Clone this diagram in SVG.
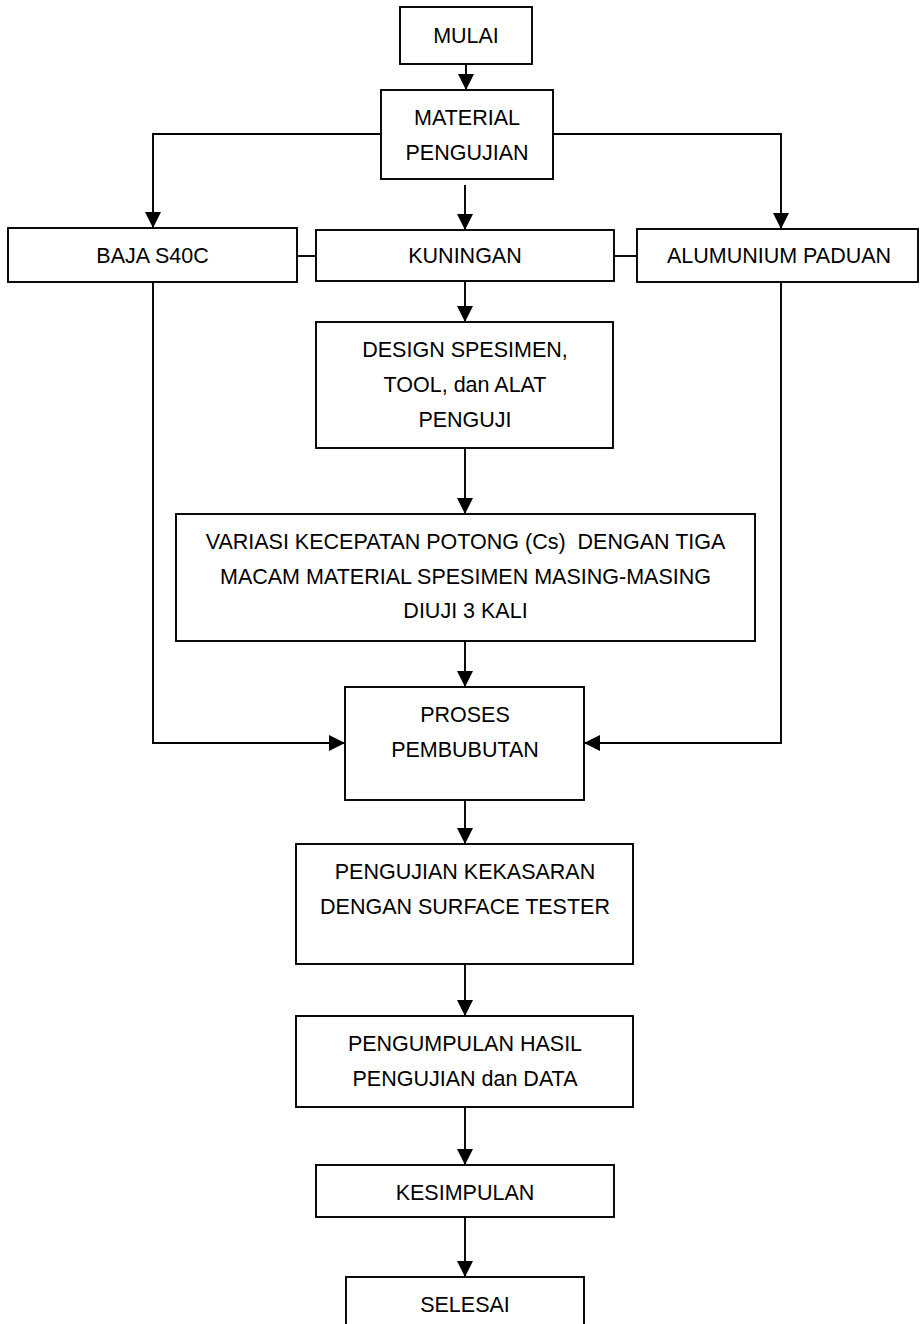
<svg xmlns="http://www.w3.org/2000/svg" width="920" height="1324" viewBox="0 0 920 1324">
<style>
.box{fill:#fff;stroke:#000;stroke-width:1.9}
.t{font-family:"Liberation Sans",Arial,sans-serif;font-size:21.5px;fill:#000;text-anchor:middle;white-space:pre}
.c{fill:none;stroke:#000;stroke-width:1.9}
</style>
<defs>
<marker id="ah" markerUnits="userSpaceOnUse" markerWidth="18" markerHeight="18" refX="16" refY="8" orient="auto">
<path d="M0,0 L16,8 L0,16 z" fill="#000"/>
</marker>
</defs>
<rect width="920" height="1324" fill="#fff"/>
<g id="connectors">
<path class="c" d="M466,64 V90" marker-end="url(#ah)"/>
<path class="c" d="M381,134 H153 V228" marker-end="url(#ah)"/>
<path class="c" d="M553,134 H781 V229" marker-end="url(#ah)"/>
<path class="c" d="M465,185 V230" marker-end="url(#ah)"/>
<path class="c" d="M297,256 H316"/>
<path class="c" d="M614,256 H637"/>
<path class="c" d="M465,282 V322" marker-end="url(#ah)"/>
<path class="c" d="M465,448 V514" marker-end="url(#ah)"/>
<path class="c" d="M465,641 V687" marker-end="url(#ah)"/>
<path class="c" d="M153,282 V743 H345" marker-end="url(#ah)"/>
<path class="c" d="M781,282 V743 H584" marker-end="url(#ah)"/>
<path class="c" d="M465,800 V844" marker-end="url(#ah)"/>
<path class="c" d="M465,964 V1016" marker-end="url(#ah)"/>
<path class="c" d="M465,1107 V1165" marker-end="url(#ah)"/>
<path class="c" d="M465,1217 V1277" marker-end="url(#ah)"/>
</g>
<g id="mulai"><rect class="box" x="400" y="7" width="132" height="57"/><text class="t" x="466" y="43">MULAI</text></g>
<g id="material"><rect class="box" x="381" y="90" width="172" height="89"/><text class="t" x="467" y="125">MATERIAL</text><text class="t" x="467" y="160">PENGUJIAN</text></g>
<g id="baja"><rect class="box" x="8" y="228" width="289" height="54"/><text class="t" x="152.5" y="263">BAJA S40C</text></g>
<g id="kuningan"><rect class="box" x="316" y="230" width="298" height="51"/><text class="t" x="465" y="263">KUNINGAN</text></g>
<g id="alumunium"><rect class="box" x="637" y="229" width="281" height="53"/><text class="t" x="779" y="263">ALUMUNIUM PADUAN</text></g>
<g id="design"><rect class="box" x="316" y="322" width="297" height="126"/><text class="t" x="465" y="357">DESIGN SPESIMEN,</text><text class="t" x="465" y="392">TOOL, dan ALAT</text><text class="t" x="465" y="427">PENGUJI</text></g>
<g id="variasi"><rect class="box" x="176" y="514" width="579" height="127"/><text class="t" x="465.5" y="549">VARIASI KECEPATAN POTONG (Cs)  DENGAN TIGA</text><text class="t" x="465.5" y="584">MACAM MATERIAL SPESIMEN MASING-MASING</text><text class="t" x="465.5" y="618">DIUJI 3 KALI</text></g>
<g id="proses"><rect class="box" x="345" y="687" width="239" height="113"/><text class="t" x="465" y="722">PROSES</text><text class="t" x="465" y="757">PEMBUBUTAN</text></g>
<g id="pengujian"><rect class="box" x="296" y="844" width="337" height="120"/><text class="t" x="465" y="879">PENGUJIAN KEKASARAN</text><text class="t" x="465" y="914">DENGAN SURFACE TESTER</text></g>
<g id="pengumpulan"><rect class="box" x="296" y="1016" width="337" height="91"/><text class="t" x="465" y="1051">PENGUMPULAN HASIL</text><text class="t" x="465" y="1086">PENGUJIAN dan DATA</text></g>
<g id="kesimpulan"><rect class="box" x="316" y="1165" width="298" height="52"/><text class="t" x="465" y="1200">KESIMPULAN</text></g>
<g id="selesai"><rect class="box" x="346" y="1277" width="238" height="60"/><text class="t" x="465" y="1312">SELESAI</text></g>
</svg>
